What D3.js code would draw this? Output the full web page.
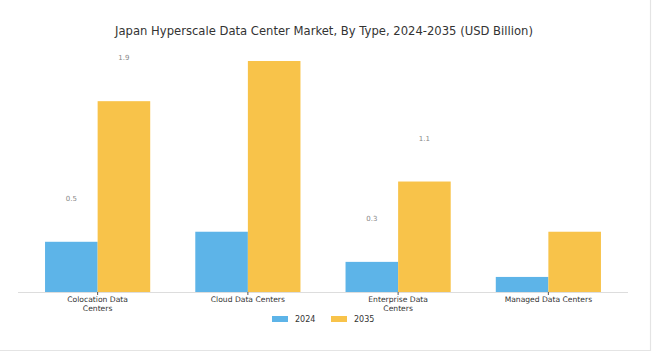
<!DOCTYPE html>
<html><head><meta charset="utf-8">
<script src="https://cdn.jsdelivr.net/npm/d3@7"></script>
<style>body{margin:0;background:#fff;}svg{display:block;font-family:"DejaVu Sans",sans-serif;}</style>
</head><body><svg id="c" width="658" height="355"></svg>
<script>
const categories = ["Colocation Data Centers","Cloud Data Centers","Enterprise Data Centers","Managed Data Centers"];
const categoryLines = [["Colocation Data","Centers"],["Cloud Data Centers"],["Enterprise Data","Centers"],["Managed Data Centers"]];
const seriesNames = ["2024","2035"];
const values2024 = [0.5, 0.6, 0.3, 0.15];
const values2035 = [1.9, 2.3, 1.1, 0.6];
const labeledCategories = ["Colocation Data Centers","Enterprise Data Centers"];
const colors = ["#5DB4E8","#F8C34A"];

const svg = d3.select("#c");
// card border
svg.append("path").attr("d","M0,350.5 H650.5 V0").attr("fill","none").attr("stroke","#e4e4e4").attr("stroke-width",1.2);

svg.append("text").attr("x",324).attr("y",35).attr("text-anchor","middle")
  .attr("font-size",11.6).attr("fill","#333").text("Japan Hyperscale Data Center Market, By Type, 2024-2035 (USD Billion)");

const baseY = 292;
const x0 = d3.scaleBand().domain(categories).range([18,628]).paddingInner(0.3).paddingOuter(0.18);
const x1 = d3.scaleBand().domain(seriesNames).range([0,x0.bandwidth()]);
const y = d3.scaleLinear().domain([0,2.3]).range([baseY, 61]);

const series = [values2024, values2035];
const g = svg.append("g");
series.forEach((vals,si)=>{
  g.selectAll(null).data(categories).enter().append("rect")
    .attr("x",c=>x0(c)+x1(seriesNames[si]))
    .attr("y",(c,i)=>y(vals[i]))
    .attr("width",x1.bandwidth())
    .attr("height",(c,i)=>baseY-y(vals[i]))
    .attr("fill",colors[si]);
  g.selectAll(null).data(categories.filter(c=>labeledCategories.includes(c))).enter().append("text")
    .attr("x",c=>x0(c)+x1(seriesNames[si])+x1.bandwidth()/2)
    .attr("y",c=>y(vals[categories.indexOf(c)])-41)
    .attr("text-anchor","middle").attr("font-size",7).attr("fill","#888")
    .text(c=>vals[categories.indexOf(c)]);
});

// axis
const ax = svg.append("g").attr("transform",`translate(0,${baseY})`)
  .call(d3.axisBottom(x0).tickSize(3).tickFormat(""));
ax.select(".domain").attr("stroke","#ddd").attr("d","M18,0.5H628");
ax.selectAll(".tick line").attr("stroke","#555");
categories.forEach((c,i)=>{
  const t = svg.append("text").attr("text-anchor","middle").attr("font-size",7.6).attr("fill","#333");
  categoryLines[i].forEach((ln,j)=>{
    t.append("tspan").attr("x",x0(c)+x0.bandwidth()/2).attr("y",302+j*9).text(ln);
  });
});

// legend
const legend = svg.append("g");
const legX = [272, 331];
seriesNames.forEach((s,i)=>{
  legend.append("rect").attr("x",legX[i]).attr("y",316).attr("width",16).attr("height",6).attr("fill",colors[i]);
  legend.append("text").attr("x",legX[i]+23).attr("y",322).attr("font-size",8).attr("fill","#333").text(s);
});
</script></body></html>
